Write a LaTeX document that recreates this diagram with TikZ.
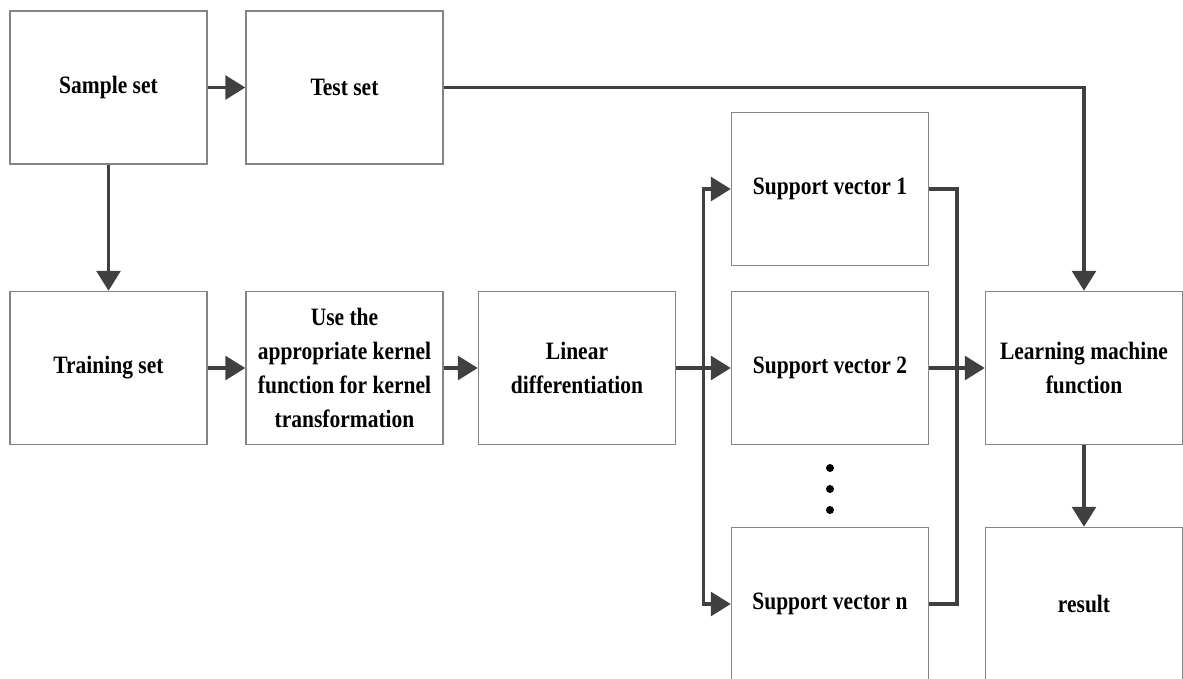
\documentclass[tikz,border=0pt]{standalone}
\usepackage{fontspec}
\setmainfont[FakeStretch=0.86]{Liberation Serif}
\usepackage[dvipsnames]{xcolor}
\usetikzlibrary{positioning,calc,arrows.meta}
\definecolor{linegray}{HTML}{404040}
\definecolor{boxgray}{HTML}{858585}

\begin{document}
\begin{tikzpicture}[x=1pt,y=1pt,-,>={Triangle[length=20pt,width=24pt]},line width=3.2pt,node distance=236pt,main node/.style={rectangle,draw=boxgray,line width=1.5pt,minimum width=197pt,minimum height=153pt,inner sep=0pt,align=center,font=\bfseries\fontsize{25}{34}\selectfont}]

            \useasboundingbox (0,0) rectangle (1183,-678);

            \node[main node] (1) at (108.5,-87.5) {Sample set};
            \node[main node] (2) [right of = 1]{Test set};
            \node[main node] (3) [below of = 1, yshift = -44.5]{Training set};
            \node[main node] (4) [right of = 3]{Use the\\appropriate kernel\\function for kernel\\transformation};
            \node[main node] (5) [right of = 4, xshift = -3.5]{Linear\\differentiation};
            \node[main node] (6) [right of = 5, xshift = 17]{Support vector 2};
            \node[main node] (7) [above of = 6, yshift = -57]{Support vector 1};
            \node[main node] (8) [below of = 6]{Support vector n};
            \node[main node] (9) [right of = 6, xshift = 18]{Learning machine\\function};
            \node[main node] (10) [below of = 9]{result};

            \foreach \d/\y in {d1/468, d2/489, d3/510}
                \node[circle, fill, inner sep=0pt, minimum size=8pt] (\d) at (830,-\y){};

            \coordinate (b) at ($(5.east)!0.5!(6.west)$);
            \coordinate (m) at ($(6.east)!0.5!(9.west)$);

                \draw[->, linegray] (1) to (2);
                \draw[->, linegray] (1) to (3);
                \draw[->, linegray] (2) -| (9);
                \draw[->, linegray] (3) to (4);
                \draw[->, linegray] (4) to (5);
                \draw[->, linegray] (5) to (6);
                \draw[->, linegray] (b) |- (7);
                \draw[->, linegray] (b) |- (8);
                \draw[-, linegray] (7) -| (m);
                \draw[-, linegray] (8) -| (m);
                \draw[->, linegray] (6) to (9);
                \draw[->, linegray] (9) to (10);
            ;
        \end{tikzpicture}
\end{document}
